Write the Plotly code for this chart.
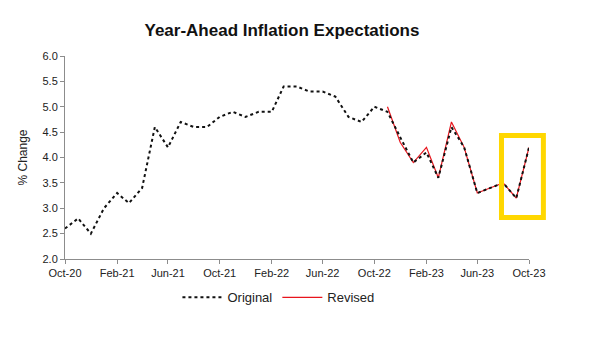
import plotly.graph_objects as go
import pandas as pd

months = pd.date_range("2020-10-01", "2023-10-01", freq="MS")

original = [2.6, 2.8, 2.5, 3.0, 3.3, 3.1, 3.4, 4.6, 4.2, 4.7, 4.6, 4.6,
            4.8, 4.9, 4.8, 4.9, 4.9, 5.4, 5.4, 5.3, 5.3, 5.2, 4.8, 4.7,
            5.0, 4.9, 4.4, 3.9, 4.1, 3.6, 4.6, 4.2, 3.3, 3.4, 3.5, 3.2, 4.2]

revised_months = months[25:]
revised = [5.0, 4.3, 3.9, 4.2, 3.6, 4.7, 4.2, 3.3, 3.4, 3.5, 3.2, 4.2]

tick_dates = months[::4]
tick_labels = [d.strftime("%b-%y") for d in tick_dates]
y_ticks = [2.0, 2.5, 3.0, 3.5, 4.0, 4.5, 5.0, 5.5, 6.0]

fig = go.Figure()
fig.add_trace(go.Scatter(x=revised_months, y=revised, mode="lines", name="Revised",
                         line=dict(color="#E8141C", width=1.2), legendrank=2))
fig.add_trace(go.Scatter(x=months, y=original, mode="lines", name="Original",
                         line=dict(color="#111111", width=2.0, dash="dot"), legendrank=1))

fig.add_shape(type="rect", xref="paper", yref="paper",
              x0=0.9407, x1=1.031, y0=0.204, y1=0.608,
              line=dict(color="#FFD700", width=5), fillcolor="rgba(0,0,0,0)")

fig.update_layout(
    width=609, height=347,
    margin=dict(l=65, r=80, t=56, b=88),
    paper_bgcolor="white", plot_bgcolor="white",
    font=dict(family="Liberation Sans, Arial, sans-serif", size=11, color="#222222"),
    title=dict(text="<b>Year-Ahead Inflation Expectations</b>", x=0.463, xanchor="center",
               y=0.912, yanchor="middle", font=dict(size=17, color="#111111")),
    showlegend=True,
    legend=dict(orientation="h", x=0.46, xanchor="center", y=-0.115, yanchor="top",
                font=dict(size=13, color="#222222"), itemwidth=40),
    xaxis=dict(range=[months[0], months[-1]], tickvals=tick_dates, ticktext=tick_labels,
               showline=True, linecolor="#8c8c8c", linewidth=1, ticks="outside",
               tickcolor="#8c8c8c", ticklen=4, showgrid=False, zeroline=False,
               tickfont=dict(size=11)),
    yaxis=dict(range=[2.0, 6.0], tickvals=y_ticks, ticktext=[f"{v:.1f}" for v in y_ticks],
               showline=True, linecolor="#8c8c8c", linewidth=1, ticks="outside",
               tickcolor="#8c8c8c", ticklen=4, showgrid=False, zeroline=False,
               title=dict(text="% Change", font=dict(size=12), standoff=12),
               tickfont=dict(size=11)),
)

fig.write_html("out.html")
